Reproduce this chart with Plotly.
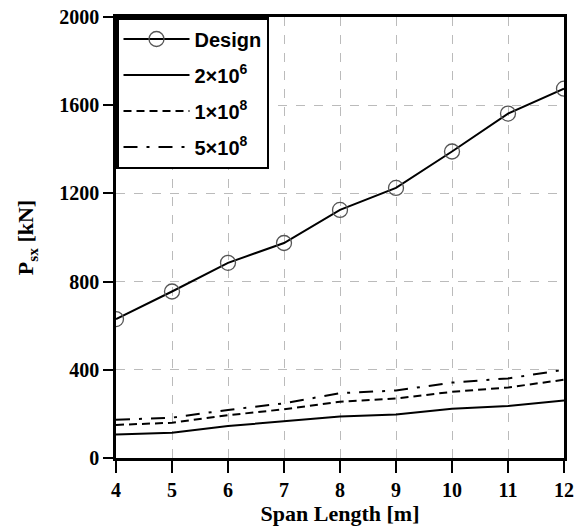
import plotly.graph_objects as go

span = [4, 5, 6, 7, 8, 9, 10, 11, 12]
design = [630, 755, 885, 975, 1125, 1225, 1390, 1562, 1675]
s_2e6 = [107, 115, 145, 165, 188, 197, 223, 236, 261]
s_1e8 = [150, 160, 194, 221, 255, 270, 300, 320, 355]
s_5e8 = [173, 183, 218, 248, 294, 306, 342, 361, 400]

names = ["Design", "2×10<sup>6</sup>", "1×10<sup>8</sup>", "5×10<sup>8</sup>"]
y_ticks = [0, 400, 800, 1200, 1600, 2000]

fig = go.Figure()
fig.add_trace(go.Scatter(x=span, y=design, name=names[0], mode="lines+markers",
                         legendgroup="a",
                         line=dict(color="black", width=2),
                         marker=dict(symbol="circle-open", size=15, color="#555555",
                                     line=dict(width=1.3))))
fig.add_trace(go.Scatter(x=span, y=s_2e6, name=names[1], mode="lines", legendgroup="b",
                         line=dict(color="black", width=2)))
fig.add_trace(go.Scatter(x=span, y=s_1e8, name=names[2], mode="lines", legendgroup="c",
                         line=dict(color="black", width=2, dash="8px,5px")))
fig.add_trace(go.Scatter(x=span, y=s_5e8, name=names[3], mode="lines", legendgroup="d",
                         line=dict(color="black", width=2, dash="14px,9px,3px,9px")))

serif = "Liberation Serif, Times New Roman, serif"
axis_font = dict(family=serif, size=20, color="black", weight="bold")
title_font = dict(family=serif, size=22, color="black", weight="bold")

fig.update_layout(
    width=587, height=530,
    margin=dict(l=116, r=23, t=17, b=72),
    plot_bgcolor="white", paper_bgcolor="white",
    showlegend=True,
    legend=dict(x=0, y=1, xanchor="left", yanchor="top",
                bgcolor="white", bordercolor="black", borderwidth=2.5,
                font=dict(family="Liberation Sans, Arial, sans-serif", size=20,
                          color="black", weight="bold"),
                itemwidth=66, tracegroupgap=7),
    xaxis=dict(range=[4, 12], tickvals=span, ticks="outside", ticklen=12, tickwidth=2,
               tickcolor="black", showline=True, linecolor="black", linewidth=2.5, mirror=True,
               showgrid=True, gridcolor="#bbbbbb", griddash="dash", gridwidth=1,
               zeroline=False, automargin=False,
               tickfont=axis_font,
               title=dict(text="Span Length [m]", font=title_font, standoff=4)),
    yaxis=dict(range=[0, 2000], tickvals=y_ticks, ticks="outside",
               ticklen=10, tickwidth=2, tickcolor="black", showline=True, linecolor="black",
               linewidth=2.5, mirror=True,
               showgrid=True, gridcolor="#bbbbbb", griddash="dash", gridwidth=1,
               zeroline=False, automargin=False,
               tickfont=axis_font,
               title=dict(text="P<sub>sx</sub> [kN]", font=title_font, standoff=20)),
)

fig.write_html("out.html", config={"displayModeBar": False},
               post_script="document.body.style.margin='0';")
